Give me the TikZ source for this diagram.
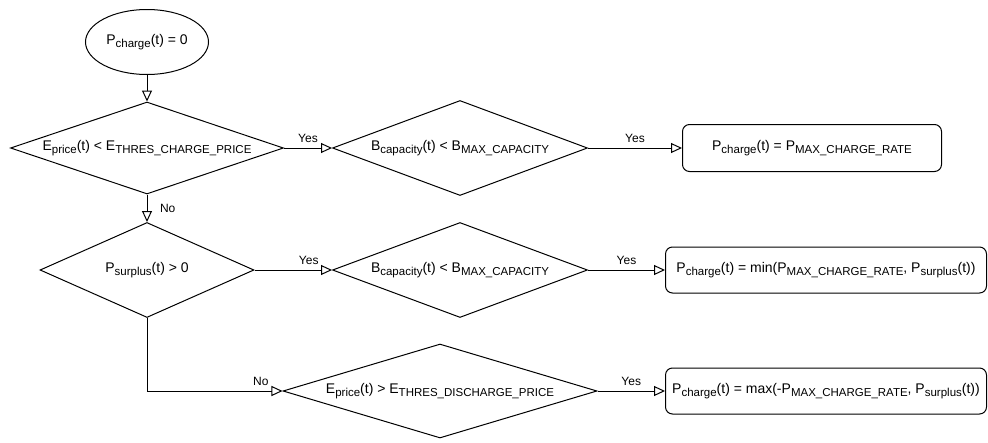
\documentclass[tikz,border=0pt]{standalone}
\usepackage{fontspec}
\setmainfont{Liberation Sans}
\usetikzlibrary{shapes.geometric, arrows.meta}
\newcommand{\sbs}[1]{\raisebox{-3.5pt}{\fontsize{11.5}{12}\selectfont #1}}
\tikzstyle{startstop} = [ellipse, minimum width=123pt, minimum height=65pt, inner sep=0pt, text centered, draw=black, line width=1pt, font=\fontsize{14}{16}\selectfont]
\tikzstyle{decision} = [diamond, aspect=3, inner sep=0pt, text centered, draw=black, line width=1pt, font=\fontsize{14}{16}\selectfont]
\tikzstyle{process} = [rectangle, rounded corners=7pt, minimum height=46pt, inner sep=0pt, text centered, draw=black, line width=1pt, font=\fontsize{14}{16}\selectfont]
\tikzstyle{arrow} = [line width=1pt, -{Triangle[open, length=11pt, width=10pt]}]
\tikzstyle{lbl} = [font=\fontsize{12}{14}\selectfont, inner sep=4.5pt]

\begin{document}
\begin{tikzpicture}[node distance=122pt]
  \useasboundingbox (0,0) rectangle (988pt,-442pt);
  \node (start) [startstop] at (147pt,-42pt) {P\sbs{charge}(t) = 0};
  \node (dec1) [decision, below of=start, yshift=16pt, minimum width=273pt, minimum height=92pt] {E\sbs{price}(t) < E\sbs{THRES\_CHARGE\_PRICE}};
  \node (dec2) [decision, right of=dec1, xshift=191pt, minimum width=255pt, minimum height=95pt] {B\sbs{capacity}(t) < B\sbs{MAX\_CAPACITY}};
  \node (out1) [process, right of=dec2, xshift=230pt, minimum width=259pt, minimum height=47pt] {P\sbs{charge}(t) = P\sbs{MAX\_CHARGE\_RATE}};
  \node (dec3) [decision, below of=dec1, minimum width=214pt, minimum height=95pt] {P\sbs{surplus}(t) > 0};
  \node (dec4) [decision, right of=dec3, xshift=191pt, minimum width=255pt, minimum height=95pt] {B\sbs{capacity}(t) < B\sbs{MAX\_CAPACITY}};
  \node (out2) [process, right of=dec4, xshift=244pt, minimum width=321pt] {P\sbs{charge}(t) = min(P\sbs{MAX\_CHARGE\_RATE}, P\sbs{surplus}(t))};
  \node (dec5) [decision, below of=dec4, xshift=-20pt, yshift=1pt, aspect=3.3, minimum width=314pt, minimum height=94pt] {E\sbs{price}(t) > E\sbs{THRES\_DISCHARGE\_PRICE}};
  \node (out3) [process, below of=out2, yshift=1pt, minimum width=321pt] {P\sbs{charge}(t) = max(-P\sbs{MAX\_CHARGE\_RATE}, P\sbs{surplus}(t))};

  \draw [arrow] (start) -- (dec1);
  \draw [arrow] (dec1) -- node[lbl, anchor=south] {Yes} (dec2);
  \draw [arrow] (dec2) -- node[lbl, anchor=south] {Yes} (out1);
  \draw [arrow] (dec1) -- node[lbl, anchor=west, xshift=8pt] {No} (dec3);
  \draw [arrow] (dec3) -- node[lbl, anchor=south, pos=0.7] {Yes} (dec4);
  \draw [arrow] (dec4) -- node[lbl, anchor=south] {Yes} (out2);
  \draw [arrow] (dec3) |- node[lbl, anchor=south, pos=0.92] {No} (dec5);
  \draw [arrow] (dec5) -- node[lbl, anchor=south] {Yes} (out3);
\end{tikzpicture}
\end{document}
